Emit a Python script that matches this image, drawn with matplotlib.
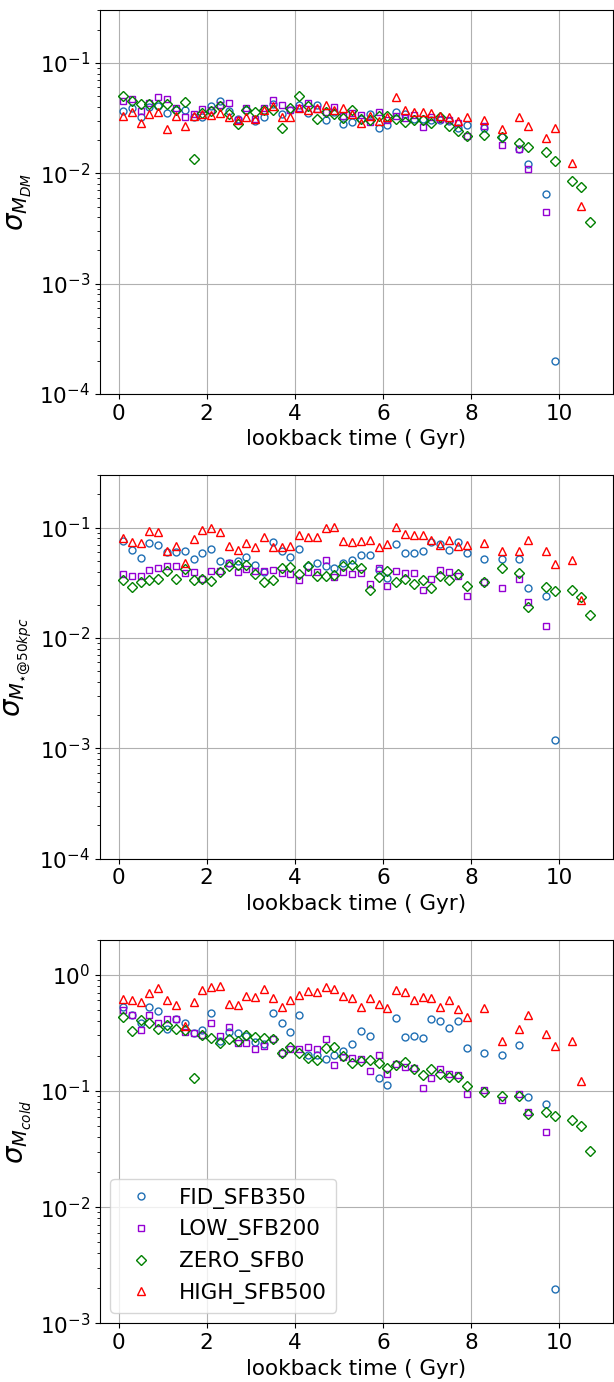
import matplotlib
matplotlib.use("Agg")
import matplotlib.pyplot as plt
import numpy as np

# lookback times (Gyr)
t_fid = [0.1,0.3,0.5,0.7,0.9,1.1,1.3,1.5,1.7,1.9,2.1,2.3,2.5,2.7,2.9,3.1,3.3,3.5,3.7,3.9,
         4.1,4.3,4.5,4.7,4.9,5.1,5.3,5.5,5.7,5.9,6.1,6.3,6.5,6.7,6.9,7.1,7.3,7.5,7.7,7.9,
         8.3,8.7,9.1,9.3,9.7,9.9]
t_low = [0.1,0.3,0.5,0.7,0.9,1.1,1.3,1.5,1.7,1.9,2.1,2.3,2.5,2.7,2.9,3.1,3.3,3.5,3.7,3.9,
         4.1,4.3,4.5,4.7,4.9,5.1,5.3,5.5,5.7,5.9,6.1,6.3,6.5,6.7,6.9,7.1,7.3,7.5,7.7,7.9,
         8.3,8.7,9.1,9.3,9.7]
t_zero = [0.1,0.3,0.5,0.7,0.9,1.1,1.3,1.5,1.7,1.9,2.1,2.3,2.5,2.7,2.9,3.1,3.3,3.5,3.7,3.9,
          4.1,4.3,4.5,4.7,4.9,5.1,5.3,5.5,5.7,5.9,6.1,6.3,6.5,6.7,6.9,7.1,7.3,7.5,7.7,7.9,
          8.3,8.7,9.1,9.3,9.7,9.9,10.3,10.5,10.7]
t_high = [0.1,0.3,0.5,0.7,0.9,1.1,1.3,1.5,1.7,1.9,2.1,2.3,2.5,2.7,2.9,3.1,3.3,3.5,3.7,3.9,
          4.1,4.3,4.5,4.7,4.9,5.1,5.3,5.5,5.7,5.9,6.1,6.3,6.5,6.7,6.9,7.1,7.3,7.5,7.7,7.9,
          8.3,8.7,9.1,9.3,9.7,9.9,10.3,10.5]

# Panel 1: sigma M_DM
dm_fid = [0.0368,0.0389,0.0321,0.040,0.0411,0.0353,0.0378,0.0373,0.0325,0.0325,
          0.0411,0.0448,0.037,0.0312,0.0378,0.0299,0.0325,0.0423,0.0343,0.0378,
          0.0417,0.0353,0.0417,0.0303,0.036,0.0279,0.0291,0.0312,0.0343,0.026,
          0.0275,0.0363,0.0343,0.0312,0.0312,0.0303,0.0307,0.0299,0.0257,0.0272,
          0.026,0.0214,0.0167,0.0121,0.0065,0.0002]
dm_low = [0.0454,0.0473,0.0368,0.0435,0.0493,0.0473,0.0394,0.0321,0.0348,0.0383,
          0.0378,0.0417,0.0435,0.0307,0.0389,0.0312,0.0389,0.0466,0.0417,0.0378,
          0.0394,0.0435,0.038,0.036,0.040,0.033,0.0353,0.034,0.0291,0.0363,
          0.0307,0.0334,0.0316,0.034,0.0264,0.0321,0.0312,0.0303,0.0287,0.0217,
          0.0268,0.0179,0.0167,0.011,0.0045]
dm_zero = [0.050,0.0454,0.0429,0.0429,0.0417,0.0423,0.0378,0.0442,0.0135,0.0353,
           0.0368,0.0411,0.0343,0.0279,0.0378,0.0363,0.0373,0.0373,0.026,0.0389,
           0.050,0.0411,0.0312,0.0358,0.0348,0.0316,0.0378,0.0312,0.0307,0.033,
           0.033,0.0312,0.0291,0.0303,0.0307,0.0287,0.0325,0.0268,0.0243,0.022,
           0.0224,0.0214,0.0189,0.0172,0.0156,0.0128,0.0086,0.0075,0.0036]
dm_high = [0.0334,0.0356,0.0287,0.0348,0.0363,0.025,0.0334,0.0268,0.033,0.0343,
           0.034,0.0353,0.0325,0.0303,0.0325,0.0312,0.0378,0.0411,0.0321,0.0321,
           0.0394,0.0378,0.0389,0.0417,0.0378,0.0389,0.0348,0.0283,0.033,0.0295,
           0.0321,0.0493,0.0373,0.0363,0.0358,0.0353,0.0334,0.0325,0.0295,0.0325,
           0.0307,0.0253,0.0321,0.0268,0.0211,0.0257,0.0125,0.0051]

# Panel 2: sigma M_star@50kpc
st_fid = [0.0763,0.0628,0.0532,0.0732,0.0702,0.060,0.0603,0.0619,0.0518,0.0586,
          0.0646,0.0497,0.0483,0.0497,0.054,0.0457,0.0397,0.0742,0.0619,0.0547,
          0.0646,0.0445,0.0477,0.0445,0.0427,0.0477,0.051,0.057,0.057,0.0414,
          0.0351,0.0711,0.0586,0.0594,0.0611,0.0742,0.0711,0.0628,0.0742,0.0594,
          0.0518,0.0518,0.0518,0.0285,0.0241,0.00118]
st_low = [0.0381,0.0366,0.0361,0.0414,0.0427,0.0447,0.0451,0.0386,0.0397,0.0346,
          0.0408,0.0408,0.0477,0.0397,0.0421,0.0408,0.0403,0.0414,0.0386,0.0381,
          0.0336,0.0397,0.0397,0.0504,0.0356,0.0397,0.0381,0.0392,0.031,0.0427,
          0.0297,0.0403,0.0392,0.0392,0.027,0.0346,0.0414,0.0397,0.0366,0.0241,
          0.0319,0.0285,0.0346,0.0213,0.0129]
st_zero = [0.0336,0.0289,0.0323,0.0336,0.0346,0.0408,0.0346,0.0421,0.0336,0.0346,
           0.0327,0.0397,0.0445,0.0457,0.0463,0.0381,0.0319,0.0336,0.0432,0.0438,
           0.0381,0.0445,0.0361,0.0361,0.0376,0.0445,0.0457,0.0432,0.0274,0.0356,
           0.0408,0.0319,0.0346,0.0306,0.0332,0.0281,0.0361,0.0332,0.0381,0.0293,
           0.0319,0.0427,0.0392,0.0191,0.0289,0.0266,0.0274,0.0235,0.0161]
st_high = [0.0807,0.0742,0.0722,0.094,0.0914,0.0611,0.0683,0.0483,0.0785,0.0953,
           0.0993,0.0914,0.0683,0.0628,0.0722,0.0673,0.0829,0.0673,0.0673,0.0683,
           0.0853,0.0818,0.0818,0.0993,0.102,0.0753,0.0742,0.0753,0.0774,0.0673,
           0.0711,0.102,0.0877,0.0853,0.0865,0.0774,0.0702,0.0774,0.0683,0.0692,
           0.0732,0.0611,0.0619,0.0774,0.0611,0.047,0.051,0.0219]

# Panel 3: sigma M_cold
cd_fid = [0.525,0.454,0.387,0.525,0.485,0.339,0.419,0.387,0.313,0.335,
          0.466,0.267,0.321,0.313,0.297,0.264,0.253,0.472,0.387,0.321,
          0.448,0.205,0.205,0.189,0.202,0.222,0.253,0.330,0.297,0.129,
          0.113,0.425,0.289,0.297,0.285,0.414,0.403,0.348,0.398,0.234,
          0.210,0.202,0.247,0.0887,0.0777,0.00198]
cd_low = [0.498,0.448,0.335,0.454,0.387,0.414,0.414,0.321,0.313,0.301,
          0.382,0.297,0.353,0.257,0.257,0.231,0.243,0.278,0.213,0.231,
          0.228,0.237,0.228,0.278,0.166,0.194,0.192,0.189,0.147,0.205,
          0.141,0.172,0.161,0.159,0.107,0.130,0.153,0.139,0.138,0.0935,
          0.101,0.0841,0.0948,0.0662,0.0439]
cd_zero = [0.431,0.326,0.408,0.387,0.339,0.372,0.339,0.335,0.129,0.305,
           0.285,0.260,0.282,0.271,0.305,0.293,0.285,0.278,0.213,0.240,
           0.213,0.192,0.184,0.234,0.240,0.199,0.175,0.182,0.184,0.175,
           0.157,0.166,0.179,0.155,0.136,0.155,0.139,0.132,0.132,0.110,
           0.0974,0.0899,0.0899,0.0637,0.0662,0.0604,0.0565,0.0501,0.0303]
cd_high = [0.616,0.608,0.584,0.695,0.762,0.600,0.554,0.362,0.584,0.732,
           0.782,0.803,0.561,0.554,0.658,0.641,0.751,0.633,0.525,0.600,
           0.667,0.722,0.713,0.782,0.751,0.658,0.624,0.532,0.624,0.561,
           0.512,0.732,0.703,0.608,0.641,0.633,0.525,0.600,0.505,0.436,
           0.518,0.271,0.339,0.448,0.309,0.243,0.267,0.122]

labels = ["FID_SFB350", "LOW_SFB200", "ZERO_SFB0", "HIGH_SFB500"]
colors = ["#1f6fb4", "darkviolet", "green", "red"]
markers = ["o", "s", "D", "^"]
msizes = [5, 5, 4.6, 5.5]
times = [t_fid, t_low, t_zero, t_high]

panels = [
    ([dm_fid, dm_low, dm_zero, dm_high], r"$\sigma_{M_{DM}}$", (1e-4, 0.3)),
    ([st_fid, st_low, st_zero, st_high], r"$\sigma_{M_{\star@50kpc}}$", (1e-4, 0.3)),
    ([cd_fid, cd_low, cd_zero, cd_high], r"$\sigma_{M_{cold}}$", (1e-3, 2.0)),
]

W, H = 614, 1382
fig = plt.figure(figsize=(W/100, H/100), dpi=100)
left = 99.7 / W
width = (613.3 - 99.7) / W
tops = [10.3, 475.0, 939.7]
ah = 383.7
FS = 15.5

for i, (series, ylab, ylim) in enumerate(panels):
    bottom = 1 - (tops[i] + ah) / H
    ax = fig.add_axes([left, bottom, width, ah / H])
    ax.set_axisbelow(True)
    ax.grid(True, which="major", color="#b0b0b0", linewidth=0.8)
    for t, y, lab, c, m, ms in zip(times, series, labels, colors, markers, msizes):
        ax.plot(t, y, linestyle="none", marker=m, ms=ms,
                mfc="none", mec=c, mew=1.0, label=lab)
    ax.set_yscale("log")
    ax.set_ylim(*ylim)
    ax.set_xlim(-0.43, 11.23)
    ax.set_xticks([0, 2, 4, 6, 8, 10])
    ax.tick_params(labelsize=FS)
    ax.set_xlabel("lookback time ( Gyr)", fontsize=FS)
    ax.set_ylabel(ylab, fontsize=20)
    if i == 2:
        ax.legend(loc="lower left", fontsize=FS)

fig.savefig("out.png", dpi=100)
